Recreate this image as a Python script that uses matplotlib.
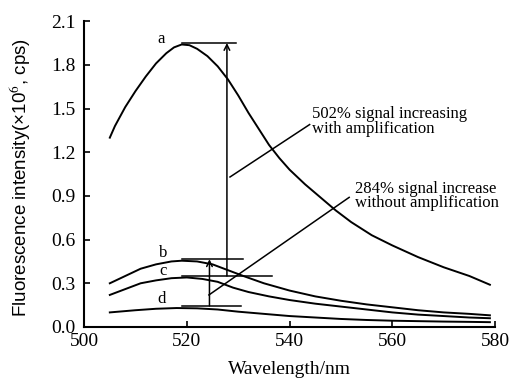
import numpy as np
import matplotlib.pyplot as plt

plt.rcParams['font.family'] = ['Liberation Serif', 'DejaVu Serif']
plt.rcParams['mathtext.fontset'] = 'stix'

# curve a (with amplification)
wl_a = [505, 506, 508, 510, 512, 514, 516, 517.5, 519, 520.5, 522, 524, 526, 528,
        530, 532, 534, 536, 538, 540, 543, 546, 549, 552, 556, 560, 565, 570, 575, 579]
int_a = [1.30, 1.38, 1.51, 1.62, 1.72, 1.81, 1.88, 1.92, 1.94, 1.935, 1.91, 1.86,
         1.79, 1.70, 1.59, 1.47, 1.36, 1.25, 1.16, 1.08, 0.98, 0.89, 0.80, 0.72,
         0.63, 0.56, 0.48, 0.41, 0.35, 0.29]

wl_b = [505, 508, 511, 514, 517, 519, 522, 525, 528, 531, 535, 540, 545, 550,
        555, 560, 565, 570, 575, 579]
int_b = [0.30, 0.35, 0.40, 0.43, 0.45, 0.455, 0.45, 0.43, 0.39, 0.35, 0.30, 0.25,
         0.21, 0.18, 0.155, 0.135, 0.115, 0.10, 0.09, 0.08]

wl_c = [505, 508, 511, 514, 517, 520, 523, 526, 529, 532, 536, 540, 545, 550,
        555, 560, 565, 570, 575, 579]
int_c = [0.22, 0.26, 0.30, 0.32, 0.335, 0.34, 0.33, 0.31, 0.27, 0.24, 0.21, 0.185,
         0.16, 0.14, 0.12, 0.10, 0.085, 0.075, 0.065, 0.06]

wl_d = [505, 510, 514, 518, 522, 526, 530, 535, 540, 545, 550, 555, 560, 565,
        570, 575, 579]
int_d = [0.10, 0.115, 0.125, 0.13, 0.128, 0.12, 0.105, 0.09, 0.075, 0.065, 0.055,
         0.048, 0.043, 0.04, 0.037, 0.035, 0.033]

fig = plt.figure(figsize=(5.13, 3.78), dpi=100)
ax = fig.add_axes([0.164, 0.135, 0.801, 0.809])

for wl, val in [(wl_a, int_a), (wl_b, int_b), (wl_c, int_c), (wl_d, int_d)]:
    ax.plot(wl, val, color='black', linewidth=1.4)

# curve labels
ax.text(515, 1.98, 'a', fontsize=12, ha='center', va='center')
ax.text(515.3, 0.51, 'b', fontsize=12, ha='center', va='center')
ax.text(515.3, 0.385, 'c', fontsize=12, ha='center', va='center')
ax.text(515, 0.19, 'd', fontsize=12, ha='center', va='center')

# level marks
ax.plot([519, 529.5], [1.95, 1.95], color='black', lw=1.1)
ax.plot([519, 531], [0.465, 0.465], color='black', lw=1.1)
ax.plot([519, 536.5], [0.35, 0.35], color='black', lw=1.1)
ax.plot([519, 530.5], [0.145, 0.145], color='black', lw=1.1)

# arrows
ax.annotate('', xy=(527.8, 1.95), xytext=(527.8, 0.35),
            arrowprops=dict(arrowstyle='->', color='black', lw=1.1, shrinkA=0, shrinkB=0))
ax.annotate('', xy=(524.4, 0.465), xytext=(524.4, 0.145),
            arrowprops=dict(arrowstyle='->', color='black', lw=1.1, shrinkA=0, shrinkB=0))

# leader lines
ax.plot([528.4, 543.9], [1.03, 1.39], color='black', lw=1.1)
ax.plot([524.3, 551.6], [0.22, 0.89], color='black', lw=1.1)
ax.text(544.4, 1.41, '502% signal increasing\nwith amplification', fontsize=12,
        ha='left', va='center', linespacing=0.9)
ax.text(552.8, 0.90, '284% signal increase\nwithout amplification', fontsize=12,
        ha='left', va='center', linespacing=0.9)

ax.set_xlim(500, 580)
ax.set_ylim(0, 2.1)
ax.set_xticks([500, 520, 540, 560, 580])
ax.set_yticks(np.arange(0, 2.11, 0.3))
ax.set_yticklabels([f'{v:.1f}' for v in np.arange(0, 2.11, 0.3)])
ax.tick_params(direction='in', length=4, width=1.2, labelsize=14)
ax.tick_params(axis='y', pad=6)
ax.tick_params(axis='x', pad=4)
for s in ['top', 'right']:
    ax.spines[s].set_visible(False)
for s in ['left', 'bottom']:
    ax.spines[s].set_linewidth(1.5)

ax.set_xlabel('Wavelength/nm', fontsize=14)
ax.xaxis.set_label_coords(0.50, -0.11)
ax.set_ylabel('Fluorescence intensity(×10$^6$, cps)', fontsize=13.5,
              family=['Liberation Sans', 'DejaVu Sans'])
ax.yaxis.set_label_coords(-0.156, 0.49)
ax.yaxis.label.set_va('center')

fig.savefig('out.png', dpi=100)
